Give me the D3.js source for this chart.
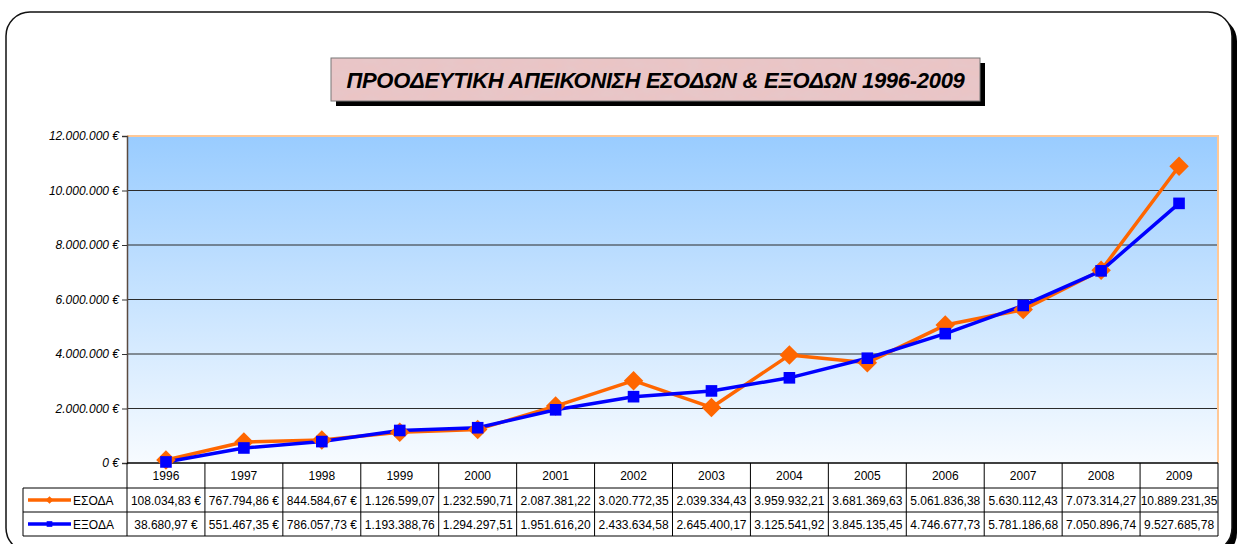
<!DOCTYPE html>
<html>
<head>
<meta charset="utf-8">
<script src="https://cdn.jsdelivr.net/npm/d3@7"></script>
<style>
  html, body { margin: 0; padding: 0; background: #fff; }
  svg { display: block; font-family: "Liberation Sans", Arial, sans-serif; }
</style>
</head>
<body>
<svg id="chart" width="1238" height="544"></svg>
<script>
// Yearly figures
const years = ["1996","1997","1998","1999","2000","2001","2002","2003","2004","2005","2006","2007","2008","2009"];
const esoda = [108034.83, 767794.86, 844584.67, 1126599.07, 1232590.71, 2087381.22, 3020772.35,
               2039334.43, 3959932.21, 3681369.63, 5061836.38, 5630112.43, 7073314.27, 10889231.35];
const exoda = [38680.97, 551467.35, 786057.73, 1193388.76, 1294297.51, 1951616.20, 2433634.58,
               2645400.17, 3125541.92, 3845135.45, 4746677.73, 5781186.68, 7050896.74, 9527685.78];
const yTicks = [0, 2000000, 4000000, 6000000, 8000000, 10000000, 12000000];
const seriesNames = ["ΕΣΟΔΑ", "ΕΞΟΔΑ"];
const chartTitle = "ΠΡΟΟΔΕΥΤΙΚΗ ΑΠΕΙΚΟΝΙΣΗ ΕΣΟΔΩΝ & ΕΞΟΔΩΝ 1996-2009";

const series = [
  { name: seriesNames[0], values: esoda, color: "#FF6600", marker: "diamond" },
  { name: seriesNames[1], values: exoda, color: "#0000FF", marker: "square" }
];

// Greek number formatting: 1.234.567,89
const gr = d3.formatLocale({ decimal: ",", thousands: ".", grouping: [3], currency: ["", " €"] });
const fmtMoney = gr.format(",.2f");
const fmtTick = v => gr.format(",.0f")(v) + " €";
// Narrow cells only keep the euro sign when the number is short enough
const cellText = v => { const s = fmtMoney(v); return s.length <= 10 ? s + " €" : s; };

const svg = d3.select("#chart");
const defs = svg.append("defs");

// Outer frame with drop shadow
svg.append("rect").attr("x", 11).attr("y", 17).attr("width", 1226).attr("height", 540)
  .attr("rx", 24).attr("fill", "#000");
svg.append("rect").attr("x", 6).attr("y", 12).attr("width", 1226).attr("height", 540)
  .attr("rx", 24).attr("fill", "#fff").attr("stroke", "#111").attr("stroke-width", 1.5);

// Plot area geometry
const plot = { left: 127, right: 1218, top: 136, bottom: 463 };
const x = d3.scaleBand().domain(years).range([plot.left, plot.right]);
const y = d3.scaleLinear().domain([0, 12000000]).range([plot.bottom, plot.top]);

// Background gradient
const grad = defs.append("linearGradient").attr("id", "bg").attr("x1", 0).attr("y1", 0).attr("x2", 0).attr("y2", 1);
grad.append("stop").attr("offset", "0%").attr("stop-color", "#99CCFF");
grad.append("stop").attr("offset", "100%").attr("stop-color", "#F7FBFF");
svg.append("rect").attr("x", plot.left).attr("y", plot.top)
  .attr("width", plot.right - plot.left).attr("height", plot.bottom - plot.top)
  .attr("fill", "url(#bg)");

// Gridlines
svg.append("g").selectAll("line").data(yTicks.filter(t => t > 0 && t < 12000000)).join("line")
  .attr("x1", plot.left).attr("x2", plot.right)
  .attr("y1", d => y(d)).attr("y2", d => y(d))
  .attr("stroke", "#2b2b2b").attr("stroke-width", 1);

// Plot border: light orange top & right
svg.append("path")
  .attr("d", `M${plot.left},${plot.top}H${plot.right}V${plot.bottom}`)
  .attr("fill", "none").attr("stroke", "#FFC896").attr("stroke-width", 2);

// Y axis
const yAxis = d3.axisLeft(y).tickValues(yTicks).tickFormat(fmtTick).tickSize(5).tickPadding(3);
const gy = svg.append("g").attr("transform", `translate(${plot.left},0)`).call(yAxis);
gy.select(".domain").attr("stroke", "#5a4a40").attr("stroke-width", 1.5);
gy.selectAll(".tick line").attr("stroke", "#333");
gy.selectAll(".tick text").attr("font-size", 12).attr("font-style", "italic")
  .attr("fill", "#000").attr("font-family", "'Liberation Sans', Arial, sans-serif");

// X baseline
svg.append("line").attr("x1", plot.left).attr("x2", plot.right)
  .attr("y1", plot.bottom).attr("y2", plot.bottom).attr("stroke", "#000").attr("stroke-width", 1.5);

// Series lines
const cx = d => x(d) + x.bandwidth() / 2;
const line = d3.line().x((d, i) => cx(years[i])).y(d => y(d));
const gSeries = svg.append("g");
series.forEach(s => {
  gSeries.append("path").datum(s.values).attr("d", line)
    .attr("fill", "none").attr("stroke", s.color).attr("stroke-width", 3.5).attr("stroke-linejoin", "round");
});
series.forEach(s => {
  const sym = s.marker === "diamond"
    ? d3.symbol().type(d3.symbolSquare).size(190)
    : d3.symbol().type(d3.symbolSquare).size(135);
  gSeries.append("g").selectAll("path").data(s.values).join("path")
    .attr("d", sym())
    .attr("transform", (d, i) => `translate(${cx(years[i])},${y(d)})` + (s.marker === "diamond" ? " rotate(45)" : ""))
    .attr("fill", s.color);
});

// Data table beneath the axis
const rowH = [25, 24, 24];
const tTop = plot.bottom;
const legendLeft = 23;
const gT = svg.append("g").attr("font-size", 12).attr("fill", "#000");
// header row (years)
gT.selectAll("text.year").data(years).join("text").attr("class", "year")
  .attr("x", d => cx(d)).attr("y", tTop + 17).attr("text-anchor", "middle").text(d => d);
// value rows
series.forEach((s, r) => {
  const rowY = tTop + rowH[0] + rowH[1] * r;
  gT.append("g").selectAll("text").data(s.values).join("text")
    .attr("x", (d, i) => cx(years[i])).attr("y", rowY + 17).attr("text-anchor", "middle")
    .text(d => cellText(d));
  // legend key
  const kx1 = legendLeft + 5, kx2 = legendLeft + 48, ky = rowY + 12;
  gT.append("line").attr("x1", kx1).attr("x2", kx2).attr("y1", ky).attr("y2", ky)
    .attr("stroke", s.color).attr("stroke-width", 3.5);
  const m = s.marker === "diamond"
    ? d3.symbol().type(d3.symbolSquare).size(30)
    : d3.symbol().type(d3.symbolSquare).size(32);
  gT.append("path").attr("d", m())
    .attr("transform", `translate(${(kx1 + kx2) / 2},${ky})` + (s.marker === "diamond" ? " rotate(45)" : ""))
    .attr("fill", s.color);
  gT.append("text").attr("x", kx2 + 2).attr("y", rowY + 17).text(s.name);
});
// table grid
const tBottom = tTop + rowH[0] + rowH[1] + rowH[2];
const grid = svg.append("g").attr("stroke", "#000").attr("stroke-width", 1).attr("fill", "none");
const bounds = x.domain().map(d => x(d)).concat([plot.right]);
bounds.forEach(bx => grid.append("line").attr("x1", bx).attr("x2", bx).attr("y1", tTop).attr("y2", tBottom));
grid.append("line").attr("x1", legendLeft).attr("x2", legendLeft).attr("y1", tTop + rowH[0]).attr("y2", tBottom);
[tTop + rowH[0], tTop + rowH[0] + rowH[1], tBottom].forEach(ly =>
  grid.append("line").attr("x1", legendLeft).attr("x2", plot.right).attr("y1", ly).attr("y2", ly));

// Title box with shadow and mottled pink fill
const filt = defs.append("filter").attr("id", "paper").attr("x", 0).attr("y", 0).attr("width", 1).attr("height", 1);
filt.append("feTurbulence").attr("type", "fractalNoise").attr("baseFrequency", "0.05 0.1").attr("numOctaves", 3).attr("seed", 4).attr("result", "n");
filt.append("feColorMatrix").attr("in", "n").attr("type", "matrix")
  .attr("values", "0 0 0 0 0.78  0 0 0 0 0.58  0 0 0 0 0.60  0 0 0 0.9 -0.1").attr("result", "tint");
filt.append("feFlood").attr("flood-color", "#EBC4C4").attr("result", "base");
filt.append("feComposite").attr("in", "tint").attr("in2", "base").attr("operator", "over");

const tb = { x: 331, y: 58, w: 649, h: 43 };
svg.append("rect").attr("x", tb.x + 5).attr("y", tb.y + 5).attr("width", tb.w).attr("height", tb.h).attr("fill", "#000");
svg.append("rect").attr("x", tb.x).attr("y", tb.y).attr("width", tb.w).attr("height", tb.h)
  .attr("fill", "#EBC4C4").attr("filter", "url(#paper)");
svg.append("rect").attr("x", tb.x).attr("y", tb.y).attr("width", tb.w).attr("height", tb.h)
  .attr("fill", "none").attr("stroke", "#777").attr("stroke-width", 1);
svg.append("text").attr("x", tb.x + tb.w / 2).attr("y", tb.y + 30)
  .attr("text-anchor", "middle").attr("font-size", 22).attr("font-weight", "bold").attr("font-style", "italic")
  .attr("letter-spacing", -0.3)
  .attr("fill", "#000").text(chartTitle);
</script>
</body>
</html>
